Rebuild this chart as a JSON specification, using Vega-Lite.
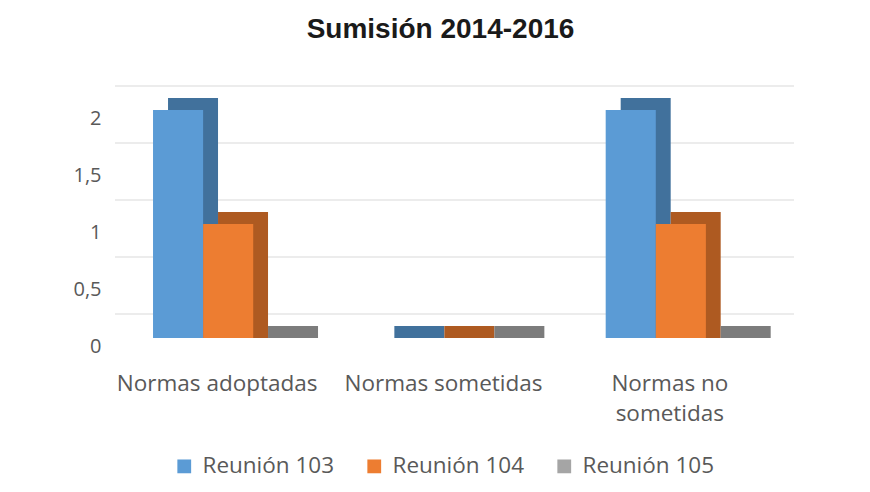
{
  "$schema": "https://vega.github.io/schema/vega-lite/v6.json",
  "width": 679,
  "height": 228,
  "autosize": {"type": "none"},
  "padding": {"left": 115, "top": 110, "right": 76, "bottom": 154},
  "background": "white",
  "title": {
    "text": "Sumisión 2014-2016",
    "font": "Liberation Sans",
    "fontSize": 28,
    "fontWeight": "bold",
    "color": "#1a1a1a",
    "anchor": "middle",
    "dx": -14,
    "offset": 42
  },
  "datasets": {
    "bars": [
      {"Categoría": "Normas adoptadas", "Reunión": "Reunión 103", "valor": 2},
      {"Categoría": "Normas adoptadas", "Reunión": "Reunión 104", "valor": 1},
      {"Categoría": "Normas adoptadas", "Reunión": "Reunión 105", "valor": 0},
      {"Categoría": "Normas sometidas", "Reunión": "Reunión 103", "valor": 0},
      {"Categoría": "Normas sometidas", "Reunión": "Reunión 104", "valor": 0},
      {"Categoría": "Normas sometidas", "Reunión": "Reunión 105", "valor": 0},
      {"Categoría": "Normas no sometidas", "Reunión": "Reunión 103", "valor": 2},
      {"Categoría": "Normas no sometidas", "Reunión": "Reunión 104", "valor": 1},
      {"Categoría": "Normas no sometidas", "Reunión": "Reunión 105", "valor": 0}
    ],
    "grid": [{"t": 0}, {"t": 0.5}, {"t": 1}, {"t": 1.5}, {"t": 2}]
  },
  "layer": [
    {
      "data": {"name": "grid"},
      "mark": {"type": "rule", "color": "#d9d9d9", "strokeWidth": 1, "yOffset": -24},
      "encoding": {
        "y": {"field": "t", "type": "quantitative", "scale": {"domain": [0, 2], "nice": false},
              "axis": {"title": null, "grid": false, "domain": false, "ticks": false,
                       "values": [0, 0.5, 1, 1.5, 2], "format": "~g", "labelOffset": 8, "labelPadding": 14,
                       "labelFont": "Open Sans", "labelFontSize": 20, "labelColor": "#595959",
                       "labelExpr": "replace(datum.label, '.', ',')"}}
      }
    },
    {
      "data": {"name": "bars"},
      "mark": {"type": "bar", "yOffset": -12, "y2Offset": 0},
      "encoding": {
        "x": {"field": "Categoría", "type": "nominal", "sort": null,
              "scale": {"paddingInner": 0.336, "paddingOuter": 0.168}},
        "xOffset": {"field": "Reunión", "type": "nominal", "sort": null,
                    "scale": {"range": [15, 165], "paddingInner": 0, "paddingOuter": 0}},
        "y": {"field": "valor", "type": "quantitative", "scale": {"domain": [0, 2], "nice": false}},
        "y2": {"datum": 0},
        "color": {"field": "Reunión", "type": "nominal", "sort": null,
                  "scale": {"range": ["#41719c", "#ae5a21", "#7c7c7c"]}, "legend": null}
      }
    },
    {
      "data": {"name": "bars"},
      "mark": {"type": "bar"},
      "encoding": {
        "x": {"field": "Categoría", "type": "nominal", "sort": null,
              "axis": {"title": null, "domain": false, "ticks": false, "labelAngle": 0,
                       "labelAlign": "center", "labelBaseline": "top", "labelOffset": -11,
                       "labelPadding": 34, "labelFont": "Open Sans", "labelFontSize": 22.5,
                       "labelColor": "#595959", "labelLineHeight": 30, "labelLimit": 300,
                       "labelExpr": "datum.value == 'Normas no sometidas' ? ['Normas no', 'sometidas'] : datum.value"}},
        "xOffset": {"field": "Reunión", "type": "nominal", "sort": null},
        "y": {"field": "valor", "type": "quantitative", "scale": {"domain": [0, 2], "nice": false}},
        "y2": {"datum": 0},
        "color": {"field": "Reunión", "type": "nominal", "sort": null,
                  "scale": {"range": ["#5b9bd5", "#ed7d31", "#a5a5a5"]},
                  "legend": {"title": null, "orient": "none", "direction": "horizontal",
                             "legendX": 58, "legendY": 345, "symbolType": "square",
                             "symbolSize": 190, "symbolStrokeWidth": 0, "symbolOpacity": 1,
                             "labelFont": "Open Sans", "labelFontSize": 22.5, "labelColor": "#595959",
                             "labelOffset": 7, "columnPadding": 28}}
      }
    }
  ],
  "resolve": {"scale": {"color": "independent", "xOffset": "independent"}},
  "config": {"view": {"stroke": null}}
}
